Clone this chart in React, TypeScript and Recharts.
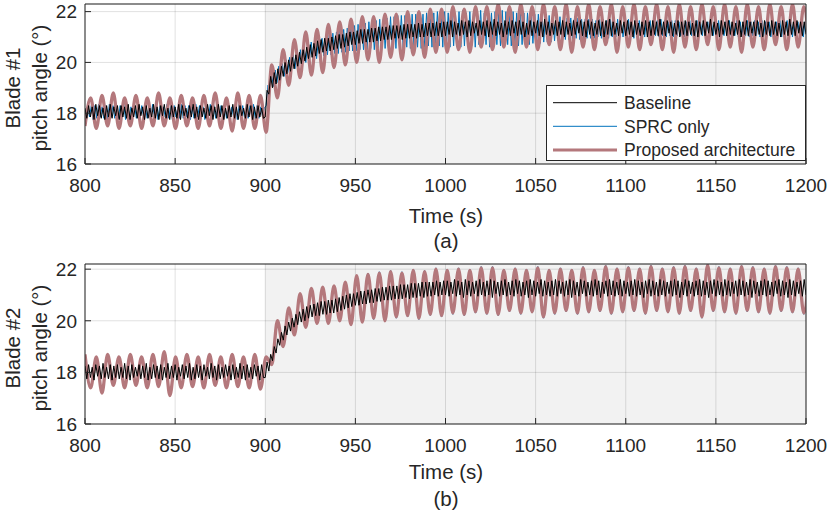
import { LineChart, Line, XAxis, YAxis, CartesianGrid } from "recharts";

const SLOW_STEP = 3.14; // proposed architecture: one value per half oscillation
const FAST_STEP = 1; // baseline / SPRC: one value per second

const X_TICKS = [800, 850, 900, 950, 1000, 1050, 1100, 1150, 1200];
const Y_TICKS = [16, 18, 20, 22];

// ---- Blade #1 ----
const PROPOSED_1 = [
  17.5, 18.6, 17.4, 18.7, 17.5, 18.8, 17.4, 18.6, 17.5, 18.7,
  17.4, 18.6, 17.5, 18.8, 17.5, 18.6, 17.4, 18.7, 17.5, 18.6,
  17.4, 18.7, 17.5, 18.8, 17.4, 18.6, 17.3, 18.8, 17.4, 18.7,
  17.4, 18.7, 17.25, 19.9, 18.6, 20.5, 19.1, 20.9, 19.4, 21.2,
  19.5, 21.3, 19.6, 21.5, 19.8, 21.6, 19.9, 21.7, 20.0, 21.8,
  20.1, 21.8, 20.0, 21.9, 20.2, 21.9, 20.1, 22.0, 20.3, 22.0,
  20.2, 22.1, 20.4, 22.1, 20.4, 22.2, 20.5, 22.1, 20.4, 22.2,
  20.6, 22.2, 20.5, 22.3, 20.6, 22.2, 20.4, 22.3, 20.6, 22.2,
  20.5, 22.3, 20.7, 22.2, 20.5, 22.3, 20.4, 22.2, 20.6, 22.3,
  20.5, 22.2, 20.7, 22.3, 20.4, 22.2, 20.6, 22.3, 20.5, 22.2,
  20.7, 22.3, 20.5, 22.2, 20.4, 22.3, 20.6, 22.2, 20.5, 22.3,
  20.7, 22.2, 20.5, 22.3, 20.6, 22.2, 20.4, 22.3, 20.6, 22.2,
  20.5, 22.3, 20.7, 22.2, 20.5, 22.3, 20.6, 22.2, 20.5,
];

// 800 s to 1200 s, one value per second
const BASELINE_1 = [
  18.2, 17.8, 18.3, 17.85, 18.25, 17.75, 18.35, 17.9, 18.3, 17.8, 18.2, 17.75, 18.3, 17.85, 18.35, 17.8, 18.25, 17.9, 18.3, 17.75,
  18.3, 17.85, 18.25, 17.8, 18.35, 17.75, 18.2, 17.85, 18.3, 17.8, 18.35, 17.9, 18.25, 17.75, 18.3, 17.8, 18.2, 17.85, 18.35, 17.8,
  18.25, 17.75, 18.3, 17.9, 18.35, 17.8, 18.2, 17.75, 18.3, 17.85, 18.25, 17.8, 18.35, 17.75, 18.3, 17.9, 18.2, 17.8, 18.3, 17.85,
  18.35, 17.8, 18.25, 17.75, 18.3, 17.85, 18.2, 17.8, 18.35, 17.9, 18.3, 17.75, 18.25, 17.8, 18.35, 17.85, 18.3, 17.75, 18.2, 17.8,
  18.3, 17.85, 18.35, 17.8, 18.25, 17.75, 18.3, 17.9, 18.2, 17.8, 18.35, 17.85, 18.3, 17.75, 18.25, 17.8, 18.3, 17.85, 18.2, 17.8,
  17.85, 18.9, 18.75, 19.45, 19.0, 19.6, 19.15, 19.75, 19.3, 19.85, 19.45, 20.0, 19.55, 20.1, 19.65, 20.2, 19.75, 20.3, 19.85, 20.4,
  19.95, 20.5, 20.05, 20.6, 20.15, 20.7, 20.2, 20.75, 20.25, 20.85, 20.35, 20.9, 20.4, 20.95, 20.45, 20.95, 20.45, 21.0, 20.5, 21.05,
  20.55, 21.1, 20.55, 21.1, 20.6, 21.15, 20.65, 21.2, 20.7, 21.2, 20.7, 21.25, 20.75, 21.3, 20.75, 21.3, 20.8, 21.3, 20.8, 21.35,
  20.8, 21.35, 20.85, 21.4, 20.85, 21.4, 20.9, 21.4, 20.9, 21.45, 20.9, 21.45, 20.95, 21.45, 20.95, 21.45, 20.9, 21.5, 20.95, 21.5,
  20.95, 21.5, 21.0, 21.5, 20.95, 21.55, 21.0, 21.5, 21.0, 21.55, 21.05, 21.55, 21.0, 21.55, 21.05, 21.6, 21.05, 21.55, 21.0, 21.6,
  21.05, 21.6, 21.1, 21.65, 21.0, 21.6, 21.1, 21.55, 21.05, 21.65, 21.1, 21.6, 21.0, 21.65, 21.05, 21.6, 21.15, 21.55, 21.05, 21.65,
  21.1, 21.6, 21.05, 21.65, 21.0, 21.6, 21.1, 21.7, 21.05, 21.6, 21.1, 21.55, 21.0, 21.65, 21.1, 21.6, 21.05, 21.65, 21.15, 21.6,
  21.05, 21.65, 21.1, 21.6, 21.0, 21.55, 21.1, 21.65, 21.05, 21.6, 21.15, 21.65, 21.05, 21.6, 21.0, 21.7, 21.1, 21.6, 21.05, 21.55,
  21.1, 21.65, 21.05, 21.6, 21.1, 21.65, 21.0, 21.6, 21.1, 21.55, 21.05, 21.65, 21.1, 21.6, 21.15, 21.65, 21.05, 21.6, 21.0, 21.65,
  21.1, 21.6, 21.05, 21.55, 21.1, 21.65, 21.05, 21.6, 21.0, 21.65, 21.1, 21.7, 21.05, 21.6, 21.1, 21.55, 21.05, 21.65, 21.15, 21.6,
  21.05, 21.65, 21.1, 21.6, 21.0, 21.65, 21.1, 21.55, 21.05, 21.6, 21.1, 21.65, 21.0, 21.6, 21.05, 21.65, 21.1, 21.6, 21.05, 21.7,
  21.1, 21.6, 21.05, 21.65, 21.15, 21.6, 21.05, 21.55, 21.1, 21.65, 21.0, 21.6, 21.1, 21.65, 21.05, 21.6, 21.1, 21.55, 21.05, 21.65,
  21.0, 21.6, 21.1, 21.65, 21.05, 21.6, 21.15, 21.7, 21.05, 21.6, 21.1, 21.55, 21.0, 21.65, 21.1, 21.6, 21.05, 21.65, 21.1, 21.6,
  21.05, 21.55, 21.1, 21.65, 21.0, 21.6, 21.1, 21.65, 21.05, 21.6, 21.15, 21.6, 21.05, 21.65, 21.1, 21.55, 21.0, 21.65, 21.1, 21.6,
  21.05, 21.65, 21.1, 21.6, 21.05, 21.55, 21.0, 21.65, 21.1, 21.6, 21.05, 21.7, 21.1, 21.6, 21.05, 21.65, 21.15, 21.6, 21.05, 21.6,
  21.1,
];

// 800.5 s to 1199.5 s, one value per second
const SPRC_1 = [
  17.8, 18.25, 17.85, 18.3, 17.75, 18.3, 17.8, 18.35, 17.85, 18.25, 17.8, 18.3, 17.75, 18.35, 17.85, 18.3, 17.8, 18.25, 17.8, 18.3,
  17.85, 18.35, 17.75, 18.3, 17.8, 18.25, 17.85, 18.3, 17.8, 18.35, 17.75, 18.3, 17.85, 18.25, 17.8, 18.3, 17.8, 18.35, 17.85, 18.3,
  17.75, 18.3, 17.8, 18.25, 17.85, 18.35, 17.8, 18.3, 17.75, 18.3, 17.85, 18.25, 17.8, 18.35, 17.8, 18.3, 17.85, 18.3, 17.75, 18.25,
  17.8, 18.35, 17.85, 18.3, 17.8, 18.25, 17.75, 18.3, 17.85, 18.35, 17.8, 18.3, 17.8, 18.25, 17.85, 18.3, 17.75, 18.35, 17.8, 18.3,
  17.85, 18.25, 17.8, 18.3, 17.75, 18.35, 17.85, 18.3, 17.8, 18.25, 17.8, 18.3, 17.85, 18.35, 17.75, 18.3, 17.8, 18.25, 17.85, 18.2,
  18.3, 19.1, 18.9, 19.55, 19.05, 19.7, 19.2, 19.85, 19.35, 19.95, 19.45, 20.1, 19.6, 20.2, 19.65, 20.3, 19.75, 20.4, 19.85, 20.5,
  19.9, 20.6, 20.0, 20.7, 20.05, 20.8, 20.1, 20.85, 20.15, 20.9, 20.2, 20.95, 20.25, 21.05, 20.3, 21.1, 20.3, 21.15, 20.35, 21.2,
  20.35, 21.25, 20.4, 21.3, 20.4, 21.35, 20.45, 21.4, 20.45, 21.45, 20.45, 21.5, 20.5, 21.5, 20.5, 21.55, 20.5, 21.6, 20.55, 21.6,
  20.5, 21.65, 20.55, 21.7, 20.5, 21.7, 20.55, 21.75, 20.55, 21.8, 20.5, 21.8, 20.55, 21.85, 20.6, 21.85, 20.55, 21.85, 20.6, 21.9,
  20.55, 21.9, 20.6, 21.9, 20.6, 21.95, 20.55, 21.9, 20.6, 21.95, 20.65, 21.95, 20.6, 21.95, 20.6, 22.0, 20.65, 21.95, 20.6, 22.0,
  20.65, 21.95, 20.6, 22.0, 20.65, 21.95, 20.7, 22.0, 20.6, 22.05, 20.65, 21.95, 20.7, 22.0, 20.65, 21.95, 20.6, 22.0, 20.7, 22.05,
  20.65, 21.95, 20.7, 22.0, 20.6, 21.95, 20.65, 22.0, 20.7, 21.95, 20.65, 22.05, 20.6, 22.0, 20.7, 21.95, 20.65, 22.0, 20.7, 21.95,
  20.65, 22.0, 20.7, 21.95, 20.65, 21.95, 20.7, 21.9, 20.75, 21.9, 20.7, 21.9, 20.75, 21.85, 20.8, 21.85, 20.8, 21.85, 20.8, 21.8,
  20.85, 21.8, 20.85, 21.8, 20.85, 21.75, 20.9, 21.75, 20.9, 21.75, 20.9, 21.7, 20.95, 21.75, 20.9, 21.7, 20.95, 21.7, 20.95, 21.7,
  20.95, 21.7, 20.95, 21.65, 21.0, 21.7, 20.95, 21.7, 21.0, 21.65, 20.95, 21.7, 21.0, 21.65, 21.0, 21.7, 20.95, 21.65, 21.0, 21.65,
  21.0, 21.7, 21.0, 21.65, 20.95, 21.7, 21.05, 21.65, 21.0, 21.65, 21.0, 21.7, 21.05, 21.65, 21.0, 21.6, 21.05, 21.65, 21.0, 21.7,
  21.05, 21.65, 21.0, 21.6, 21.05, 21.65, 21.0, 21.65, 21.05, 21.6, 21.05, 21.65, 21.0, 21.6, 21.05, 21.65, 21.05, 21.6, 21.0, 21.65,
  21.05, 21.6, 21.05, 21.65, 21.0, 21.6, 21.05, 21.65, 21.05, 21.6, 21.0, 21.65, 21.05, 21.6, 21.05, 21.6, 21.0, 21.65, 21.05, 21.6,
  21.05, 21.65, 21.0, 21.6, 21.05, 21.6, 21.05, 21.65, 21.0, 21.6, 21.05, 21.65, 21.05, 21.6, 21.0, 21.65, 21.05, 21.6, 21.05, 21.6,
  21.0, 21.65, 21.05, 21.6, 21.05, 21.65, 21.0, 21.6, 21.05, 21.65, 21.05, 21.6, 21.0, 21.65, 21.05, 21.6, 21.05, 21.65, 21.0, 21.6,
];

// ---- Blade #2 ----
const PROPOSED_2 = [
  18.7, 17.4, 18.6, 17.2, 18.7, 17.5, 18.6, 17.4, 18.7, 17.5,
  18.6, 17.4, 18.7, 17.45, 18.8, 17.1, 18.6, 17.4, 18.7, 17.45,
  18.6, 17.4, 18.7, 17.5, 18.6, 17.4, 18.7, 17.45, 18.6, 17.4,
  18.7, 17.35, 18.6, 18.3, 20.0, 19.0, 20.5, 19.45, 21.05, 19.75,
  21.25, 19.9, 21.3, 19.9, 21.35, 20.0, 21.5, 19.85, 21.75, 19.95,
  21.8, 20.1, 21.85, 20.0, 21.9, 20.15, 21.85, 20.2, 21.95, 20.1,
  21.9, 20.25, 22.0, 20.2, 21.95, 20.3, 22.0, 20.25, 21.95, 20.35,
  22.05, 20.3, 22.05, 20.25, 21.95, 20.4, 22.0, 20.3, 21.95, 20.35,
  22.05, 20.15, 21.95, 20.3, 22.0, 20.4, 21.95, 20.3, 22.05, 20.35,
  21.95, 20.4, 22.1, 20.3, 22.0, 20.35, 22.05, 20.4, 22.0, 20.3,
  22.1, 20.4, 22.0, 20.35, 22.05, 20.3, 22.1, 20.4, 22.0, 20.15,
  22.15, 20.4, 22.05, 20.35, 22.0, 20.3, 22.1, 20.4, 22.05, 20.35,
  22.0, 20.3, 22.1, 20.4, 22.05, 20.35, 22.0, 20.3, 22.1,
];

const SPRC_2 = [
  18.65, 17.45, 18.6, 17.25, 18.7, 17.5, 18.6, 17.45, 18.65, 17.5,
  18.6, 17.45, 18.7, 17.5, 18.75, 17.15, 18.6, 17.45, 18.7, 17.5,
  18.6, 17.45, 18.65, 17.5, 18.6, 17.45, 18.7, 17.5, 18.6, 17.45,
  18.65, 17.4, 18.55, 18.35, 19.95, 19.05, 20.45, 19.5, 21.0, 19.8,
  21.2, 19.95, 21.3, 19.95, 21.35, 20.05, 21.5, 19.9, 21.75, 20.0,
  21.85, 20.05, 21.9, 20.0, 21.95, 20.1, 21.9, 20.15, 22.0, 20.05,
  21.95, 20.2, 22.05, 20.15, 22.0, 20.25, 22.05, 20.2, 22.0, 20.3,
  22.1, 20.25, 22.1, 20.2, 22.0, 20.35, 22.05, 20.25, 22.0, 20.3,
  22.1, 20.1, 22.0, 20.25, 22.05, 20.35, 22.0, 20.25, 22.1, 20.3,
  22.0, 20.35, 22.15, 20.25, 22.05, 20.3, 22.1, 20.35, 22.05, 20.25,
  22.15, 20.35, 22.05, 20.3, 22.1, 20.25, 22.15, 20.35, 22.05, 20.1,
  22.2, 20.35, 22.1, 20.3, 22.05, 20.25, 22.15, 20.35, 22.1, 20.3,
  22.05, 20.25, 22.15, 20.35, 22.1, 20.3, 22.05, 20.25, 22.15,
];

// 800 s to 1200 s, one value per second
const BASELINE_2 = [
  18.25, 17.75, 18.3, 17.8, 18.2, 17.7, 18.3, 17.85, 18.25, 17.75, 18.35, 17.8, 18.2, 17.75, 18.3, 17.7, 18.25, 17.8, 18.3, 17.75,
  18.2, 17.8, 18.35, 17.75, 18.25, 17.7, 18.3, 17.8, 18.2, 17.85, 18.3, 17.75, 18.25, 17.8, 18.35, 17.7, 18.2, 17.75, 18.3, 17.8,
  18.25, 17.75, 18.3, 17.7, 18.2, 17.8, 18.35, 17.75, 18.25, 17.8, 18.3, 17.7, 18.2, 17.85, 18.3, 17.75, 18.25, 17.8, 18.35, 17.7,
  18.2, 17.75, 18.3, 17.8, 18.25, 17.7, 18.3, 17.85, 18.2, 17.75, 18.35, 17.8, 18.25, 17.7, 18.3, 17.75, 18.2, 17.8, 18.3, 17.85,
  18.25, 17.7, 18.3, 17.75, 18.2, 17.8, 18.35, 17.75, 18.25, 17.7, 18.3, 17.8, 18.2, 17.75, 18.3, 17.85, 18.25, 17.7, 18.3, 17.8,
  17.8, 18.4, 18.05, 18.7, 18.45, 19.0, 18.75, 19.3, 19.05, 19.55, 19.25, 19.8, 19.45, 19.95, 19.6, 20.1, 19.75, 20.25, 19.85, 20.35,
  19.95, 20.45, 20.0, 20.55, 20.1, 20.6, 20.15, 20.65, 20.2, 20.7, 20.2, 20.75, 20.25, 20.75, 20.25, 20.8, 20.3, 20.8, 20.3, 20.85,
  20.35, 20.9, 20.4, 20.95, 20.45, 21.0, 20.5, 21.05, 20.55, 21.05, 20.6, 21.1, 20.6, 21.15, 20.65, 21.15, 20.65, 21.2, 20.7, 21.2,
  20.7, 21.25, 20.75, 21.25, 20.75, 21.3, 20.8, 21.3, 20.8, 21.35, 20.8, 21.35, 20.85, 21.35, 20.85, 21.4, 20.85, 21.4, 20.9, 21.4,
  20.85, 21.45, 20.9, 21.45, 20.9, 21.45, 20.95, 21.5, 20.9, 21.5, 20.95, 21.5, 20.95, 21.5, 21.0, 21.55, 20.95, 21.5, 21.0, 21.55,
  21.0, 21.55, 20.95, 21.5, 21.05, 21.6, 20.95, 21.55, 21.0, 21.5, 20.9, 21.6, 21.0, 21.55, 20.95, 21.5, 21.05, 21.55, 20.95, 21.6,
  21.0, 21.5, 20.95, 21.55, 21.0, 21.6, 20.9, 21.55, 21.05, 21.5, 20.95, 21.55, 21.0, 21.6, 20.95, 21.5, 21.0, 21.55, 20.95, 21.6,
  21.05, 21.55, 20.95, 21.5, 21.0, 21.55, 20.9, 21.6, 21.0, 21.55, 20.95, 21.5, 21.05, 21.6, 20.95, 21.55, 21.0, 21.5, 20.95, 21.55,
  21.0, 21.6, 20.95, 21.55, 21.05, 21.5, 20.95, 21.55, 21.0, 21.6, 20.9, 21.55, 21.0, 21.5, 20.95, 21.6, 21.05, 21.55, 20.95, 21.5,
  21.0, 21.55, 20.95, 21.6, 21.0, 21.55, 20.9, 21.5, 21.05, 21.55, 20.95, 21.6, 21.0, 21.55, 20.95, 21.5, 21.0, 21.6, 20.95, 21.55,
  21.05, 21.5, 20.95, 21.55, 21.0, 21.6, 20.95, 21.55, 21.0, 21.5, 20.9, 21.55, 21.05, 21.6, 20.95, 21.55, 21.0, 21.5, 20.95, 21.6,
  21.0, 21.55, 20.95, 21.5, 21.05, 21.55, 20.95, 21.6, 21.0, 21.55, 20.9, 21.5, 21.0, 21.6, 20.95, 21.55, 21.05, 21.5, 20.95, 21.55,
  21.0, 21.6, 20.95, 21.55, 21.0, 21.5, 20.9, 21.55, 21.05, 21.6, 20.95, 21.55, 21.0, 21.5, 20.95, 21.6, 21.0, 21.55, 20.95, 21.5,
  21.05, 21.55, 20.95, 21.6, 21.0, 21.55, 20.95, 21.5, 21.0, 21.6, 20.9, 21.55, 21.05, 21.5, 20.95, 21.55, 21.0, 21.6, 20.95, 21.55,
  21.0, 21.5, 20.95, 21.55, 21.05, 21.6, 20.95, 21.55, 21.0, 21.5, 20.9, 21.6, 21.0, 21.55, 20.95, 21.5, 21.05, 21.55, 20.95, 21.6,
  21.0,
];

const INK = "#262626";
const FONT = "'Liberation Sans', Arial, Helvetica, sans-serif";
const RED = "#B4787C";
const BLUE = "#0072BD";
// gray background from 900 s onward (stripes between vertical grid lines)
const SHADE = ["none", "none", "#F2F2F2", "#F2F2F2", "#F2F2F2", "#F2F2F2", "#F2F2F2", "#F2F2F2"];

const LEGEND = [
  { name: "Baseline", color: "#000", width: 1 },
  { name: "SPRC only", color: BLUE, width: 1 },
  { name: "Proposed architecture", color: RED, width: 3 },
];

const toPoints = (values: number[], start: number, step: number) =>
  values.map((v, i) => ({ t: Math.round((start + i * step) * 100) / 100, v }));

interface PanelProps {
  top: number;
  height: number;
  yMax: number;
  baseline: number[];
  sprc: { values: number[]; start: number; step: number; curve: "linear" | "monotone" };
  proposed: number[];
}

function Panel({ top, height, yMax, baseline, sprc, proposed }: PanelProps) {
  const tickFont = { fill: INK, fontSize: 19, fontFamily: FONT };
  return (
    <div style={{ position: "absolute", left: 0, top, width: 831, height }}>
      <LineChart width={831} height={height} margin={{ top: 3, right: 24, bottom: 0, left: 0 }}>
        <CartesianGrid stroke="#000" strokeOpacity={0.12} verticalFill={SHADE} />
        <XAxis
          type="number"
          dataKey="t"
          domain={[800, 1200]}
          ticks={X_TICKS}
          interval={0}
          allowDataOverflow
          height={height - 164}
          stroke={INK}
          tickSize={-6}
          tickMargin={21}
          tick={tickFont}
        />
        <XAxis
          xAxisId="top"
          orientation="top"
          type="number"
          dataKey="t"
          domain={[800, 1200]}
          ticks={X_TICKS}
          interval={0}
          height={1}
          stroke={INK}
          tickSize={-6}
          tick={false}
        />
        <YAxis
          type="number"
          domain={[16, yMax]}
          ticks={Y_TICKS}
          interval={0}
          allowDataOverflow
          width={85}
          stroke={INK}
          tickSize={-6}
          tickMargin={14}
          tick={tickFont}
        />
        <YAxis
          yAxisId="right"
          orientation="right"
          type="number"
          domain={[16, yMax]}
          ticks={Y_TICKS}
          interval={0}
          width={1}
          stroke={INK}
          tickSize={-6}
          tick={false}
        />
        <Line
          data={toPoints(sprc.values, sprc.start, sprc.step)}
          dataKey="v"
          type={sprc.curve}
          stroke={BLUE}
          strokeWidth={1}
          dot={false}
          activeDot={false}
          isAnimationActive={false}
        />
        <Line
          data={toPoints(proposed, 800, SLOW_STEP)}
          dataKey="v"
          type="monotone"
          stroke={RED}
          strokeWidth={3.3}
          dot={false}
          activeDot={false}
          isAnimationActive={false}
        />
        <Line
          data={toPoints(baseline, 800, FAST_STEP)}
          dataKey="v"
          type="linear"
          stroke="#000"
          strokeWidth={1}
          dot={false}
          activeDot={false}
          isAnimationActive={false}
        />
      </LineChart>
    </div>
  );
}

export default function App() {
  const label = { fill: INK, fontSize: 20.5, fontFamily: FONT };
  return (
    <div style={{ position: "absolute", left: 0, top: 0, width: 831, height: 514, background: "#fff" }}>
      <Panel
        top={0}
        height={257}
        yMax={22.3}
        baseline={BASELINE_1}
        sprc={{ values: SPRC_1, start: 800.5, step: FAST_STEP, curve: "linear" }}
        proposed={PROPOSED_1}
      />
      <Panel
        top={260}
        height={254}
        yMax={22.2}
        baseline={BASELINE_2}
        sprc={{ values: SPRC_2, start: 800, step: SLOW_STEP, curve: "monotone" }}
        proposed={PROPOSED_2}
      />
      <svg
        width={831}
        height={514}
        style={{ position: "absolute", left: 0, top: 0, pointerEvents: "none" }}
      >
        <text transform="translate(20,88) rotate(-90)" textAnchor="middle" {...label}>Blade #1</text>
        <text transform="translate(47,88) rotate(-90)" textAnchor="middle" {...label}>pitch angle (°)</text>
        <text x={446} y={223} textAnchor="middle" {...label}>Time (s)</text>
        <text x={446} y={248} textAnchor="middle" {...label}>(a)</text>

        <text transform="translate(20,348) rotate(-90)" textAnchor="middle" {...label}>Blade #2</text>
        <text transform="translate(47,348) rotate(-90)" textAnchor="middle" {...label}>pitch angle (°)</text>
        <text x={446} y={479} textAnchor="middle" {...label}>Time (s)</text>
        <text x={446} y={506} textAnchor="middle" {...label}>(b)</text>

        <rect x={546.5} y={85.5} width={259} height={75} fill="#fff" stroke={INK} strokeWidth={1} />
        {LEGEND.map((item, i) => {
          const cy = 102.7 + i * 23.6;
          return (
            <g key={item.name}>
              <line x1={553} x2={617} y1={cy} y2={cy} stroke={item.color} strokeWidth={item.width} />
              <text x={624} y={cy + 6.3} fill={INK} fontSize={17.5} fontFamily={FONT}>
                {item.name}
              </text>
            </g>
          );
        })}
      </svg>
    </div>
  );
}
